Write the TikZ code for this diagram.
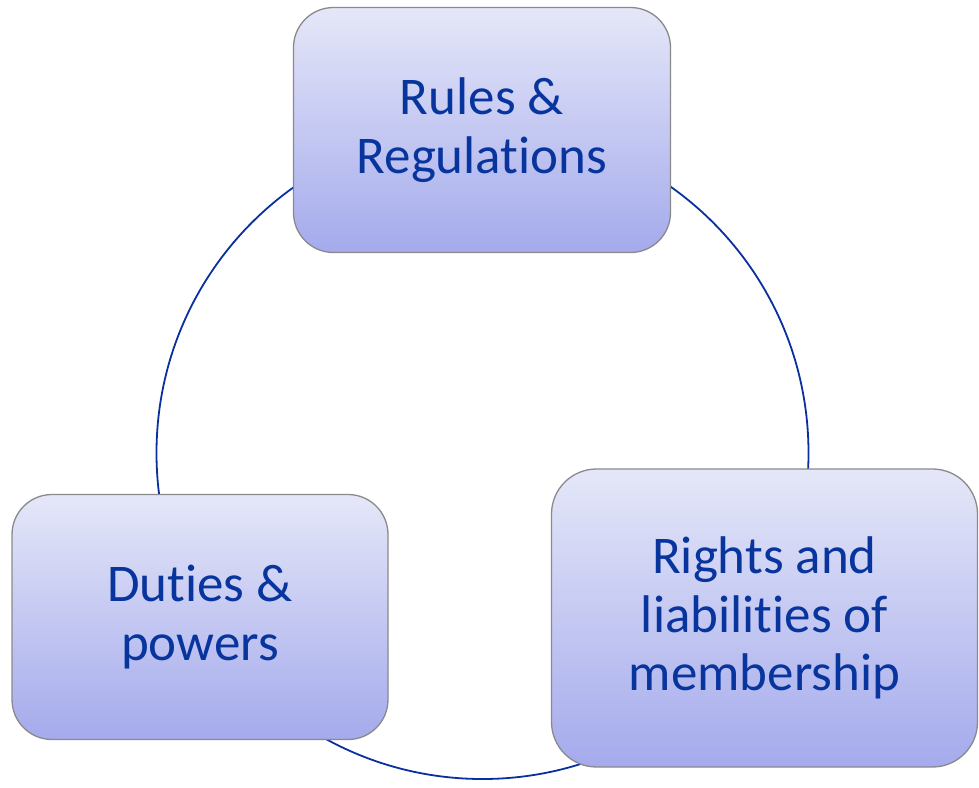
\documentclass[tikz,border=0pt]{standalone}
\usepackage{fontspec}
\setmainfont[Ligatures={NoCommon}]{Carlito}
\definecolor{txtblue}{RGB}{8,52,158}
\definecolor{lineblue}{RGB}{10,48,160}
\definecolor{boxtop}{RGB}{229,231,248}
\definecolor{boxbot}{RGB}{164,170,236}
\definecolor{boxline}{RGB}{138,138,140}
\begin{document}
\begin{tikzpicture}[x=1pt,y=-1pt,
  card/.style={draw=boxline, line width=1.3pt, rounded corners=40pt,
    top color=boxtop, bottom color=boxbot, shading angle=0,
    align=center, text=txtblue, inner sep=0pt,
    font=\fontsize{53}{58.5}\selectfont},
  ring/.style={draw=lineblue, line width=1.8pt}]
\useasboundingbox (0,0) rectangle (979,787);
\coordinate (c) at (482.5,453);
\draw[ring] (c) circle[radius=326];
\node[card, minimum width=377pt, minimum height=245pt] (rules) at (482,130) {Rules \&\\Regulations};
\node[card, minimum width=376pt, minimum height=245pt] (duties) at (200,617) {Duties \&\\powers};
\node[card, minimum width=426pt, minimum height=298pt, rounded corners=45pt] (rights) at (764.5,618) {Rights and\\liabilities of\\membership};
\end{tikzpicture}
\end{document}
